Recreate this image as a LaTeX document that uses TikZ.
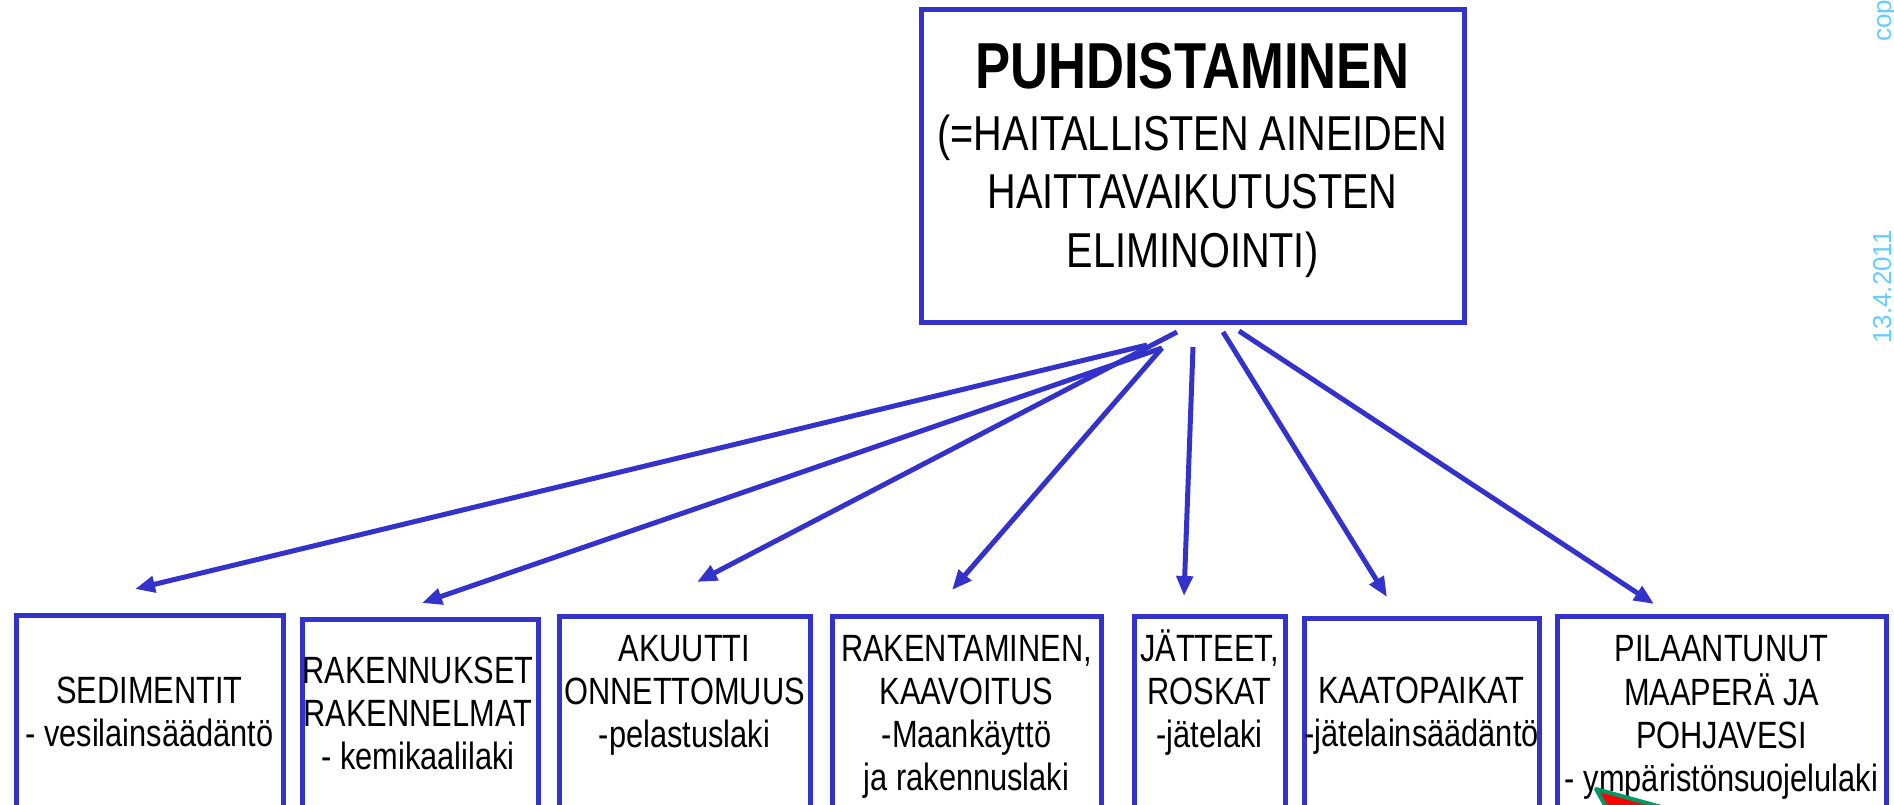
\documentclass[tikz,border=0pt]{standalone}
\usepackage{fontspec}
\setmainfont{Liberation Sans}[FakeStretch=0.81]
\newfontfamily\datefont{Liberation Sans}
\usetikzlibrary{arrows.meta}
\definecolor{boxblue}{RGB}{51,51,204}
\definecolor{datecol}{RGB}{102,204,255}
\definecolor{calgreen}{RGB}{0,153,102}
\definecolor{calred}{RGB}{255,0,0}
\newcommand\mylines[1]{\begin{tabular}[t]{@{}c@{}}#1\end{tabular}}
\begin{document}
\begin{tikzpicture}[x=1pt,y=-1pt,
  box/.style={draw=boxblue,line width=5pt,rectangle,inner sep=0pt},
  arr/.style={draw=boxblue,line width=5pt,-{Triangle[length=20pt,width=16pt]}},
  lbl/.style={font=\fontsize{38}{43}\selectfont,inner sep=0pt,anchor=base},
  datelbl/.style={font=\datefont\fontsize{26}{30}\selectfont,text=datecol,inner sep=0pt,rotate=90,anchor=base west}]
\useasboundingbox (0,0) rectangle (1894,805);
% top box
\node[box,minimum width=543pt,minimum height=313pt] (top) at (1192.5,166) {};
\node[inner sep=0pt,anchor=base,font=\fontsize{65}{70}\selectfont\bfseries] (title) at (1192.5,89) {PUHDISTAMINEN};
\node[inner sep=0pt,anchor=base,font=\fontsize{49}{58}\selectfont] (sub) at (1192.5,151)
  {\mylines{(=HAITALLISTEN AINEIDEN\\HAITTAVAIKUTUSTEN\\ELIMINOINTI)}};
% bottom boxes
\node[box,minimum width=267pt,minimum height=193pt] (b1) at (149.5,711.5) {};
\node[box,minimum width=236pt,minimum height=189pt] (b2) at (420,713.5) {};
\node[box,minimum width=251pt,minimum height=192pt] (b3) at (684.5,712) {};
\node[box,minimum width=269pt,minimum height=192pt] (b4) at (966.5,712) {};
\node[box,minimum width=151pt,minimum height=192pt] (b5) at (1209.5,712) {};
\node[box,minimum width=235pt,minimum height=190pt] (b6) at (1421.5,713) {};
\node[box,minimum width=329pt,minimum height=192pt] (b7) at (1721.5,712) {};
% labels
\node[lbl] (l1) at (149.5,703) {\mylines{SEDIMENTIT\\- vesilainsäädäntö}};
\node[lbl] (l2) at (418,683) {\mylines{RAKENNUKSET\\RAKENNELMAT\\- kemikaalilaki}};
\node[lbl] (l3) at (684.5,661) {\mylines{AKUUTTI\\ONNETTOMUUS\\-pelastuslaki}};
\node[lbl] (l4) at (966.5,661) {\mylines{RAKENTAMINEN,\\KAAVOITUS\\-Maankäyttö\\ja rakennuslaki}};
\node[lbl] (l5) at (1209.5,661) {\mylines{JÄTTEET,\\ROSKAT\\-jätelaki}};
\node[lbl] (l6) at (1421.5,703) {\mylines{KAATOPAIKAT\\-jätelainsäädäntö}};
\node[lbl] (l7) at (1721.5,661) {\mylines{PILAANTUNUT\\MAAPERÄ JA\\POHJAVESI\\- ympäristönsuojelulaki}};
% arrow ends
\coordinate (s1) at (1147,345); \coordinate (t1) at (135,589);
\coordinate (s2) at (1162,348); \coordinate (t2) at (422,603);
\coordinate (s3) at (1177,332); \coordinate (t3) at (697,582);
\coordinate (s4) at (1162,348); \coordinate (t4) at (952,590);
\coordinate (s5) at (1193,347); \coordinate (t5) at (1184,596);
\coordinate (s6) at (1223,332); \coordinate (t6) at (1387,597);
\coordinate (s7) at (1239,331); \coordinate (t7) at (1654,604);
\foreach \i in {1,...,7} {\draw[arr] (s\i) -- (t\i);}
% side texts
\node[datelbl] (date) at (1891,344) {13.4.2011};
\node[datelbl] (copy) at (1891,42) {cop};
% callout pointer (partly off page)
\filldraw[fill=calred,draw=calgreen,line width=4pt,line join=round] (1596,789) -- (1620,832) -- (1752,832) -- cycle;
\end{tikzpicture}
\end{document}
